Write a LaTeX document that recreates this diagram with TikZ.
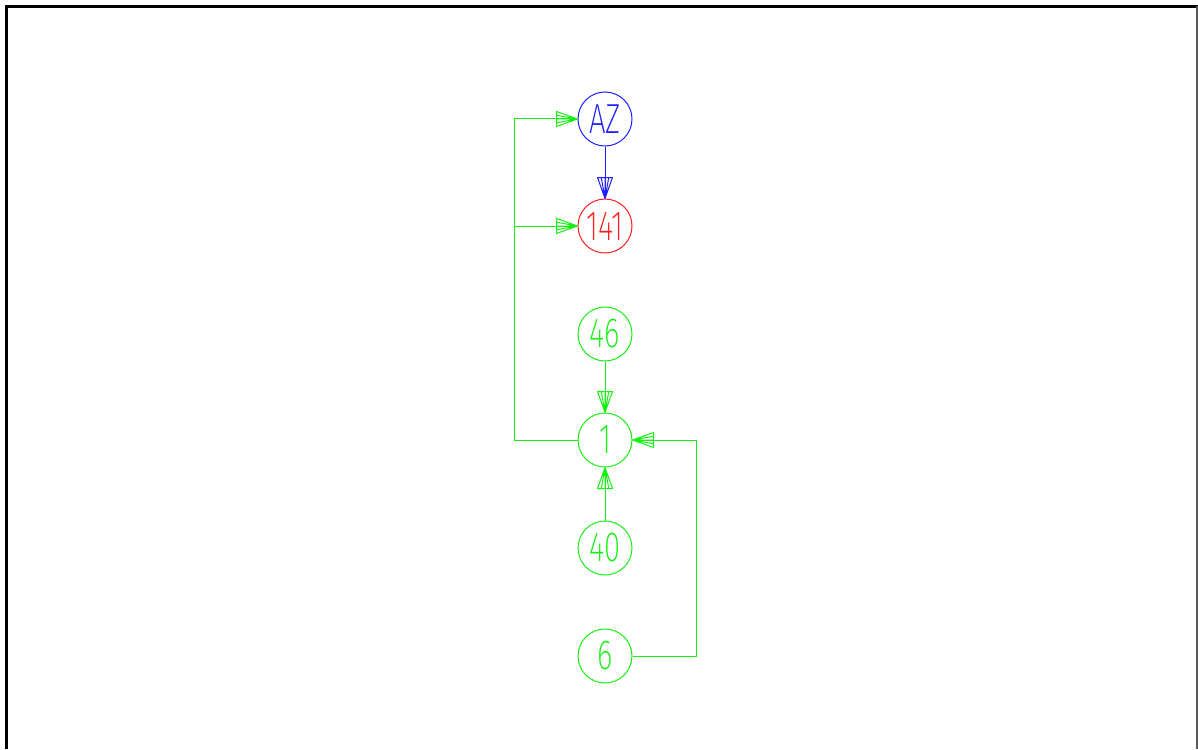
\documentclass[tikz,border=0pt]{standalone}
\usepackage{fontspec}
\newfontfamily\lbl[FakeStretch=0.7]{Fira Sans ExtraLight}
\usetikzlibrary{arrows.meta}
\pgfdeclarearrow{
  name = Hatch,
  setup code = {
    \pgfarrowssettipend{0pt}
    \pgfarrowssetlineend{-1pt}
    \pgfarrowsupperhullpoint{0pt}{0pt}
    \pgfarrowsupperhullpoint{-21pt}{7.5pt}
    \pgfarrowshullpoint{-21pt}{-7.5pt}
  },
  drawing code = {
    \pgfsetdash{}{0pt}
    \pgfsetroundjoin
    \pgfpathmoveto{\pgfpoint{-21pt}{7.5pt}}
    \pgfpathlineto{\pgfpoint{0pt}{0pt}}
    \pgfpathlineto{\pgfpoint{-21pt}{-7.5pt}}
    \pgfpathclose
    \pgfpathmoveto{\pgfpoint{-21pt}{3.75pt}}\pgfpathlineto{\pgfpoint{0pt}{0pt}}
    \pgfpathmoveto{\pgfpoint{-21pt}{-3.75pt}}\pgfpathlineto{\pgfpoint{0pt}{0pt}}
    \pgfpathmoveto{\pgfpoint{-21pt}{0pt}}\pgfpathlineto{\pgfpoint{0pt}{0pt}}
    \pgfpathmoveto{\pgfpoint{-8pt}{1pt}}\pgfpathlineto{\pgfpoint{0pt}{0pt}}
    \pgfpathmoveto{\pgfpoint{-8pt}{-1pt}}\pgfpathlineto{\pgfpoint{0pt}{0pt}}
    \pgfusepathqstroke
  },
  defaults = { }
}
\definecolor{gn}{RGB}{20,240,20}
\definecolor{bl}{RGB}{30,30,255}
\definecolor{rd}{RGB}{255,30,30}
\tikzset{
  vtx/.style={circle, draw, line width=1pt, minimum size=54pt, inner sep=0pt,
    font=\lbl\fontsize{42pt}{42pt}\selectfont},
  edge/.style={line width=1pt, -{Hatch}},
}
\begin{document}
\begin{tikzpicture}[x=1pt,y=-1pt]
\useasboundingbox (0,0) rectangle (1198,749);
\fill[white] (0,0) rectangle (1198,749);
\draw[line width=3pt] (6.5,749) -- (6.5,6.5) -- (1198,6.5);
\draw[black!65, line width=1.5pt] (1197,6.5) -- (1197,749);

\node[vtx, bl, text=bl] (AZ) at (605,119) {AZ};
\node[vtx, rd, text=rd] (n141) at (605,226) {141};
\node[vtx, gn, text=gn] (n46) at (605,334) {46};
\node[vtx, gn, text=gn] (n1) at (605,440) {1};
\node[vtx, gn, text=gn] (n40) at (605,548) {40};
\node[vtx, gn, text=gn] (n6) at (605,656) {6};

\coordinate (ja) at (514,119);
\coordinate (jb) at (514,226);
\coordinate (jc) at (514,440);
\coordinate (jd) at (696,656);
\coordinate (je) at (696,440);

\draw[edge, bl] (AZ) -- (n141);
\draw[edge, gn] (n46) -- (n1);
\draw[edge, gn] (n40) -- (n1);
\draw[edge, gn] (n1.west) -- (jc) -- (ja) -- (AZ.west);
\draw[edge, gn] (jb) -- (n141.west);
\draw[edge, gn] (n6.east) -- (jd) -- (je) -- (n1.east);
\end{tikzpicture}
\end{document}
